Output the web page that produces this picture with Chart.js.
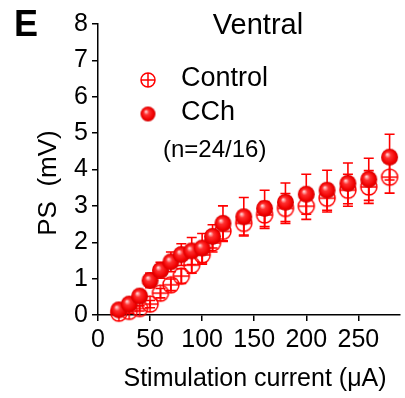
<!DOCTYPE html>
<html>
<head>
<meta charset="utf-8">
<script src="https://cdn.jsdelivr.net/npm/chart.js@4.4.0/dist/chart.umd.min.js"></script>
<style>
  html, body { margin: 0; padding: 0; background: #fff; }
</style>
</head>
<body>
<canvas id="ps" width="405" height="398"></canvas>
<script>
// stimulation currents (uA) and population spike amplitudes (mV), mean +/- SEM
const current = [20, 30, 40, 50, 60, 70, 80, 90, 100, 110, 120, 140, 160, 180, 200, 220, 240, 260, 280];
const controlPS  = [0.05, 0.10, 0.18, 0.30, 0.60, 0.83, 1.07, 1.37, 1.65, 1.98, 2.30, 2.52, 2.75, 2.93, 2.99, 3.21, 3.43, 3.52, 3.79];
const controlSEM = [0.03, 0.05, 0.07, 0.10, 0.13, 0.16, 0.20, 0.22, 0.25, 0.25, 0.28, 0.32, 0.37, 0.41, 0.36, 0.38, 0.44, 0.45, 0.44];
const cchPS  = [0.14, 0.30, 0.52, 0.95, 1.23, 1.46, 1.66, 1.76, 1.84, 2.16, 2.52, 2.70, 2.93, 3.10, 3.32, 3.43, 3.62, 3.73, 4.34];
const cchSEM = [0.04, 0.07, 0.10, 0.20, 0.22, 0.27, 0.30, 0.37, 0.40, 0.32, 0.48, 0.53, 0.50, 0.53, 0.55, 0.55, 0.56, 0.58, 0.63];
const xTicks = [0, 50, 100, 150, 200, 250];
const yTicks = [0, 1, 2, 3, 4, 5, 6, 7, 8];

const FONT = "'Liberation Sans', Arial, sans-serif";
const RED = '#ff0000';

// open circle with a cross for Control
function crossCircle(r) {
  const c = document.createElement('canvas');
  c.width = c.height = r * 2 + 4;
  const g = c.getContext('2d');
  const m = r + 2;
  g.strokeStyle = RED;
  g.lineWidth = 1.5;
  g.beginPath();
  g.arc(m, m, r, 0, Math.PI * 2);
  g.moveTo(m - r, m); g.lineTo(m + r, m);
  g.moveTo(m, m - r); g.lineTo(m, m + r);
  g.stroke();
  return c;
}

// shaded red ball for CCh
function ball(r) {
  const c = document.createElement('canvas');
  c.width = c.height = r * 2 + 4;
  const g = c.getContext('2d');
  const m = r + 2;
  const grad = g.createRadialGradient(m - r * 0.3, m - r * 0.35, 0, m, m, r);
  grad.addColorStop(0, '#fff0f0');
  grad.addColorStop(0.35, '#ff3030');
  grad.addColorStop(0.8, '#f00000');
  grad.addColorStop(1, '#d00000');
  g.fillStyle = grad;
  g.beginPath();
  g.arc(m, m, r, 0, Math.PI * 2);
  g.fill();
  return c;
}

const ctrlMark = crossCircle(8);
const cchMark = ball(8.5);
const ctrlLegend = crossCircle(7);
const cchLegend = ball(7.5);

const errorBars = {
  id: 'errorBars',
  beforeDatasetDraw(chart, args) {
    const ds = chart.data.datasets[args.index];
    const xs = chart.scales.x, ys = chart.scales.y;
    const ctx = chart.ctx;
    ctx.save();
    ctx.strokeStyle = RED;
    ctx.lineWidth = 1.6;
    ds.data.forEach((p, i) => {
      const px = xs.getPixelForValue(p.x);
      const top = ys.getPixelForValue(p.y + ds.sem[i]);
      const bot = ys.getPixelForValue(Math.max(0, p.y - ds.sem[i]));
      ctx.beginPath();
      ctx.moveTo(px, top); ctx.lineTo(px, bot);
      ctx.moveTo(px - 5, top); ctx.lineTo(px + 5, top);
      ctx.moveTo(px - 5, bot); ctx.lineTo(px + 5, bot);
      ctx.stroke();
    });
    ctx.restore();
  }
};

const labels = {
  id: 'labels',
  afterDraw(chart) {
    const ctx = chart.ctx;
    ctx.save();
    ctx.fillStyle = '#000';
    ctx.textBaseline = 'middle';

    ctx.font = 'bold 36px ' + FONT;
    ctx.textAlign = 'left';
    ctx.fillText('E', 14, 26);

    ctx.font = '29px ' + FONT;
    ctx.textAlign = 'center';
    ctx.fillText('Ventral', 258, 26);

    // legend
    ctx.drawImage(ctrlLegend, 148 - ctrlLegend.width / 2, 80 - ctrlLegend.height / 2);
    ctx.drawImage(cchLegend, 148 - cchLegend.width / 2, 114 - cchLegend.height / 2);
    ctx.font = '27px ' + FONT;
    ctx.textAlign = 'left';
    ctx.fillText('Control', 181, 79);
    ctx.fillText('CCh', 181, 113);
    ctx.font = '24px ' + FONT;
    ctx.fillText('(n=24/16)', 163, 150);

    // axis titles
    ctx.font = '25px ' + FONT;
    ctx.textAlign = 'center';
    ctx.fillText('Stimulation current (\u03bcA)', 255, 379);

    ctx.translate(49, 183);
    ctx.rotate(-Math.PI / 2);
    ctx.font = '26px ' + FONT;
    ctx.fillText('PS  (mV)', 0, 0);
    ctx.restore();
  }
};

new Chart(document.getElementById('ps'), {
  type: 'scatter',
  data: {
    datasets: [
      {
        label: 'CCh',
        data: current.map((x, i) => ({ x: x, y: cchPS[i] })),
        sem: cchSEM,
        pointStyle: cchMark,
        order: 0,
        clip: false
      },
      {
        label: 'Control',
        data: current.map((x, i) => ({ x: x, y: controlPS[i] })),
        sem: controlSEM,
        pointStyle: ctrlMark,
        order: 1,
        clip: false
      }
    ]
  },
  options: {
    responsive: false,
    devicePixelRatio: 1,
    animation: false,
    layout: { padding: { left: 0, right: 2, top: 24, bottom: 0 } },
    plugins: { legend: { display: false }, tooltip: { enabled: false } },
    scales: {
      x: {
        type: 'linear',
        min: 0,
        max: 290,
        afterFit: s => { s.height = 83; },
        afterBuildTicks: s => { s.ticks = xTicks.map(v => ({ value: v })); },
        border: { display: true, color: '#000', width: 1.5 },
        grid: { drawOnChartArea: false, drawTicks: true, tickLength: 6, color: '#000', lineWidth: 1.5 },
        ticks: { color: '#000', font: { family: FONT, size: 25 }, padding: 4, maxRotation: 0 }
      },
      y: {
        type: 'linear',
        min: 0,
        max: 8,
        afterFit: s => { s.width = 98; },
        afterBuildTicks: s => { s.ticks = yTicks.map(v => ({ value: v })); },
        border: { display: true, color: '#000', width: 1.5 },
        grid: { drawOnChartArea: false, drawTicks: true, tickLength: 6, color: '#000', lineWidth: 1.5 },
        ticks: { color: '#000', font: { family: FONT, size: 25 }, padding: 4 }
      }
    }
  },
  plugins: [errorBars, labels]
});
</script>
</body>
</html>
